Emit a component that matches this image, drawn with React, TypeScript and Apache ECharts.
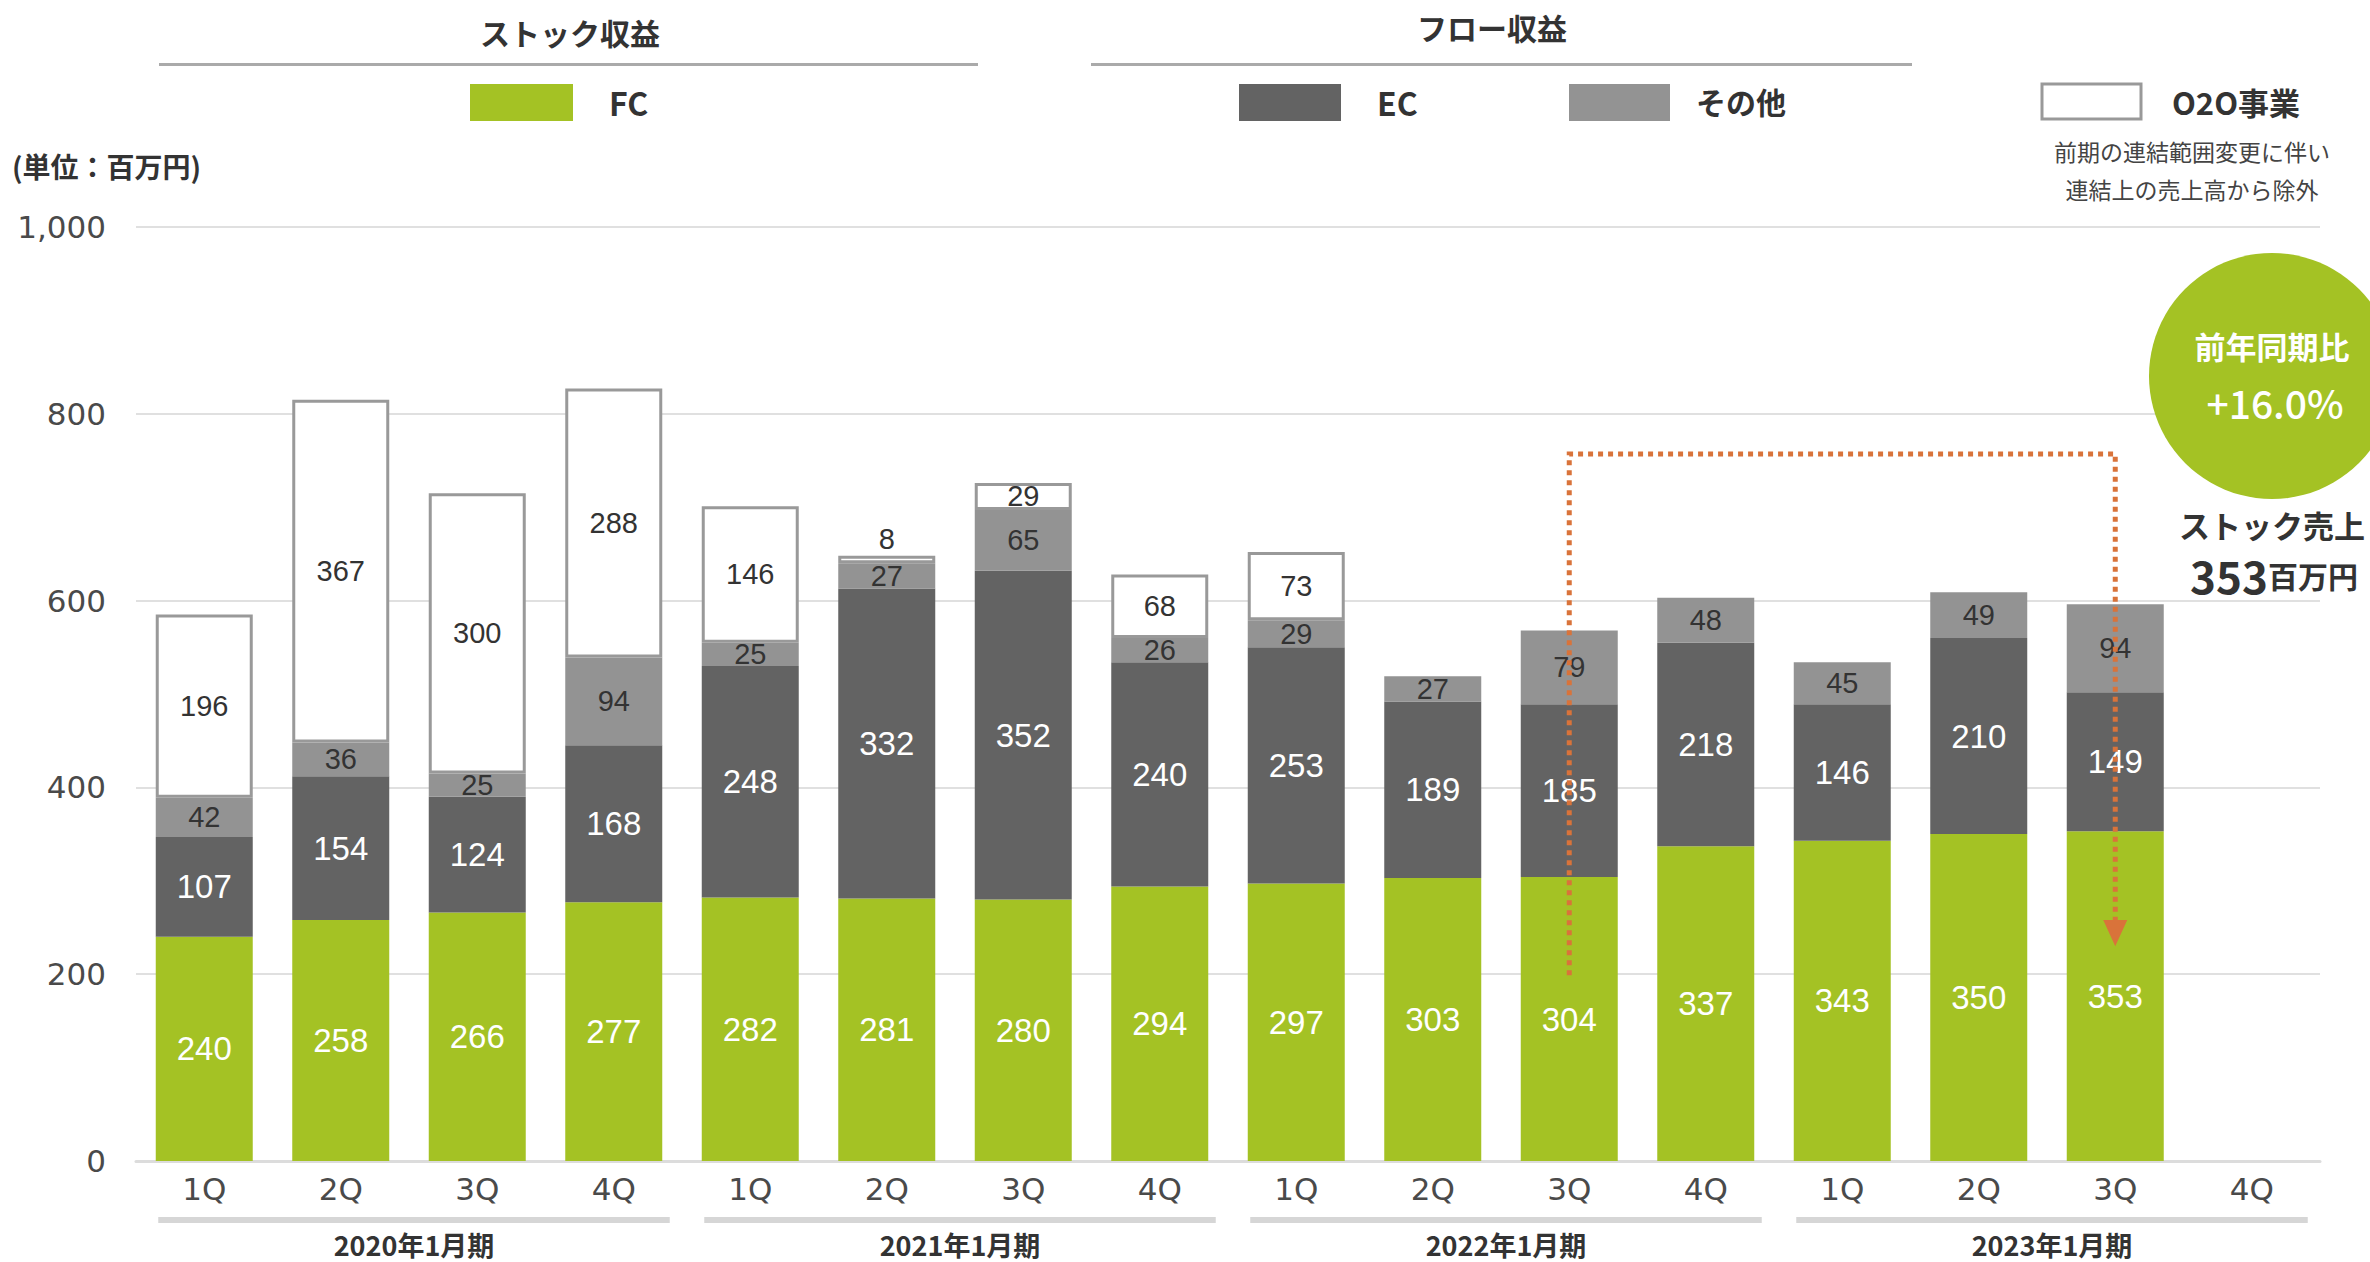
import React, { useEffect, useRef } from "react";
import * as echarts from "echarts";

const quarters = ["1Q", "2Q", "3Q", "4Q", "1Q", "2Q", "3Q", "4Q", "1Q", "2Q", "3Q", "4Q", "1Q", "2Q", "3Q", "4Q"];
const fiscalYears = ["2020年1月期", "2021年1月期", "2022年1月期", "2023年1月期"];
const fcValues = [240, 258, 266, 277, 282, 281, 280, 294, 297, 303, 304, 337, 343, 350, 353, null];
const ecValues = [107, 154, 124, 168, 248, 332, 352, 240, 253, 189, 185, 218, 146, 210, 149, null];
const otherValues = [42, 36, 25, 94, 25, 27, 65, 26, 29, 27, 79, 48, 45, 49, 94, null];
const o2oValues = [196, 367, 300, 288, 146, 8, 29, 68, 73, null, null, null, null, null, null, null];
const yMin = 0;
const yMax = 1000;
const yInterval = 200;

const GREEN = "#A4C224";
const EC_GRAY = "#636363";
const OTHER_GRAY = "#939393";
const ORANGE = "#D9733A";
const JP = "'Noto Sans CJK JP', 'Noto Sans', sans-serif";
const NUM = "'DejaVu Sans', sans-serif";
const LBL = "'Liberation Sans', Arial, sans-serif";

export default function App() {
  const ref = useRef<HTMLDivElement>(null);
  useEffect(() => {
    document.body.style.margin = "0";
    const chart = echarts.init(ref.current!, null, { renderer: "svg" });
    const bigLabel = (color: string, size: number) => ({
      show: true,
      position: "inside",
      color,
      fontSize: size,
      fontFamily: LBL,
      formatter: (p: any) => (p.value == null ? "" : String(p.value)),
    });
    chart.setOption({
      animation: false,
      backgroundColor: "#fff",
      grid: { left: 136, right: 50, top: 227, bottom: 101 },
      xAxis: {
        type: "category",
        data: quarters,
        axisLine: { lineStyle: { color: "#dcdcdc", width: 3 } },
        axisTick: { show: false },
        axisLabel: { color: "#4a4a4a", fontSize: 31, fontFamily: NUM, margin: 12 },
      },
      yAxis: {
        type: "value",
        min: yMin,
        max: yMax,
        interval: yInterval,
        axisLine: { show: false },
        axisTick: { show: false },
        splitLine: { lineStyle: { color: "#e0e0e0", width: 2 } },
        axisLabel: {
          color: "#4a4a4a",
          fontSize: 31,
          fontFamily: NUM,
          margin: 30,
          formatter: (v: number) => v.toLocaleString("en-US"),
        },
      },
      series: [
        {
          name: "FC",
          type: "bar",
          stack: "total",
          barWidth: 97,
          data: fcValues,
          itemStyle: { color: GREEN },
          label: bigLabel("#fff", 33),
        },
        {
          name: "EC",
          type: "bar",
          stack: "total",
          data: ecValues,
          itemStyle: { color: EC_GRAY },
          label: bigLabel("#fff", 33),
        },
        {
          name: "その他",
          type: "bar",
          stack: "total",
          data: otherValues,
          itemStyle: { color: OTHER_GRAY },
          label: bigLabel("#333", 29),
        },
        {
          name: "O2O事業",
          type: "bar",
          stack: "total",
          data: o2oValues.map((v) =>
            v != null && v < 15 ? { value: v, label: { position: "top", distance: 2 } } : v
          ),
          itemStyle: { color: "#fff", borderColor: "#999", borderWidth: 3 },
          label: bigLabel("#333", 29),
        },
      ],
    });

    const px = (i: number, v: number) => chart.convertToPixel({ gridIndex: 0 }, [i, v]) as number[];
    const graphics: any[] = [];
    // bottom fiscal year groups
    fiscalYears.forEach((fy, g) => {
      const x0 = px(g * 4, 0)[0] - 46;
      const x1 = px(g * 4 + 3, 0)[0] + 56;
      graphics.push({
        type: "rect",
        shape: { x: x0, y: 1217, width: x1 - x0, height: 6 },
        style: { fill: "#d6d6d6" },
      });
      graphics.push({
        type: "text",
        x: (x0 + x1) / 2,
        y: 1244,
        style: { text: fy, fill: "#333", font: `bold 27px ${JP}`, align: "center", verticalAlign: "middle" },
      });
    });
    // headings
    graphics.push(
      { type: "text", x: 570, y: 32, style: { text: "ストック収益", fill: "#333", font: `bold 30px ${JP}`, align: "center", verticalAlign: "middle" } },
      { type: "rect", shape: { x: 159, y: 63, width: 819, height: 3 }, style: { fill: "#aaa" } },
      { type: "text", x: 1492, y: 27, style: { text: "フロー収益", fill: "#333", font: `bold 30px ${JP}`, align: "center", verticalAlign: "middle" } },
      { type: "rect", shape: { x: 1091, y: 63, width: 821, height: 3 }, style: { fill: "#aaa" } },
      // legend
      { type: "rect", shape: { x: 470, y: 84, width: 103, height: 37 }, style: { fill: GREEN } },
      { type: "text", x: 609, y: 102, style: { text: "FC", fill: "#333", font: `bold 32px ${JP}`, verticalAlign: "middle" } },
      { type: "rect", shape: { x: 1239, y: 84, width: 102, height: 37 }, style: { fill: EC_GRAY } },
      { type: "text", x: 1377, y: 102, style: { text: "EC", fill: "#333", font: `bold 32px ${JP}`, verticalAlign: "middle" } },
      { type: "rect", shape: { x: 1569, y: 84, width: 101, height: 37 }, style: { fill: OTHER_GRAY } },
      { type: "text", x: 1696, y: 101, style: { text: "その他", fill: "#333", font: `bold 30px ${JP}`, verticalAlign: "middle" } },
      { type: "rect", shape: { x: 2042, y: 84, width: 99, height: 35 }, style: { fill: "#fff", stroke: "#999", lineWidth: 3 } },
      { type: "text", x: 2172, y: 101, style: { text: "O2O事業", fill: "#333", font: `bold 31px ${JP}`, verticalAlign: "middle" } },
      { type: "text", x: 2192, y: 151, style: { text: "前期の連結範囲変更に伴い", fill: "#444", font: `23px ${JP}`, align: "center", verticalAlign: "middle" } },
      { type: "text", x: 2192, y: 189, style: { text: "連結上の売上高から除外", fill: "#444", font: `23px ${JP}`, align: "center", verticalAlign: "middle" } },
      { type: "text", x: 12, y: 166, style: { text: "(単位：百万円)", fill: "#333", font: `bold 28px ${JP}`, verticalAlign: "middle" } },
      // circle
      { type: "circle", shape: { cx: 2272, cy: 376, r: 123 }, style: { fill: GREEN } },
      { type: "text", x: 2272, y: 345, style: { text: "前年同期比", fill: "#fff", font: `bold 31px ${JP}`, align: "center", verticalAlign: "middle" } },
      { type: "text", x: 2275, y: 402, style: { text: "+16.0%", fill: "#fff", font: `500 39px ${JP}`, align: "center", verticalAlign: "middle" } },
      { type: "text", x: 2272, y: 524, style: { text: "ストック売上", fill: "#333", font: `bold 31px ${JP}`, align: "center", verticalAlign: "middle" } },
      {
        type: "text",
        x: 2274,
        y: 575,
        style: {
          text: "{a|353}{b|百万円}",
          align: "center",
          verticalAlign: "middle",
          rich: {
            a: { fill: "#333", fontSize: 44, fontWeight: "bold", fontFamily: JP },
            b: { fill: "#333", fontSize: 30, fontWeight: "bold", fontFamily: JP },
          },
        },
      }
    );
    // dotted arrow connecting the FC bars of 2022 3Q and 2023 3Q
    const a = px(10, 199);
    const topA = px(10, 757);
    const b = px(14, 757);
    const bEnd = px(14, 258);
    const tip = px(14, 230);
    graphics.push(
      {
        type: "polyline",
        z: 100,
        shape: { points: [[a[0], a[1]], [topA[0], topA[1]], [b[0], b[1]], [bEnd[0], bEnd[1]]] },
        style: { stroke: ORANGE, lineWidth: 5, lineDash: [5, 5], fill: null },
      },
      {
        type: "polygon",
        z: 100,
        shape: { points: [[tip[0] - 12, bEnd[1]], [tip[0] + 12, bEnd[1]], [tip[0], tip[1]]] },
        style: { fill: ORANGE },
      }
    );
    chart.setOption({ graphic: graphics });
    return () => chart.dispose();
  }, []);
  return <div ref={ref} style={{ width: 2370, height: 1262 }} />;
}
